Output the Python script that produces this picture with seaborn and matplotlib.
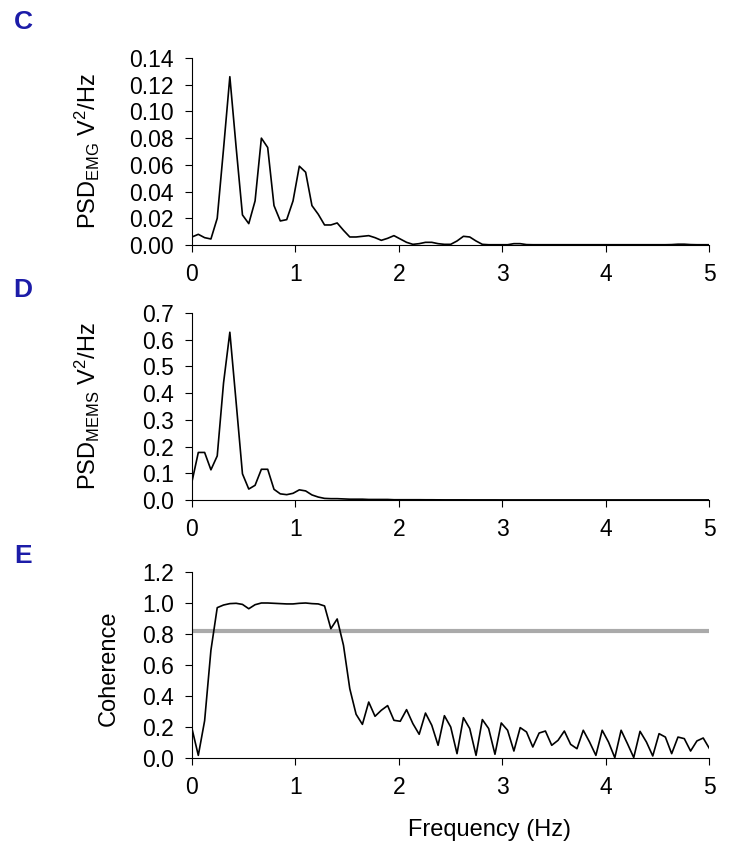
import numpy as np
import pandas as pd
import matplotlib
matplotlib.use("Agg")
import matplotlib.pyplot as plt
from matplotlib.ticker import FormatStrFormatter
import seaborn as sns

# Frequency bins (Hz), ~0.061 Hz resolution
freq = [0.000, 0.061, 0.122, 0.183, 0.244, 0.305, 0.366, 0.427, 0.488, 0.549,
        0.610, 0.671, 0.732, 0.793, 0.854, 0.916, 0.977, 1.038, 1.099, 1.160,
        1.221, 1.282, 1.343, 1.404, 1.465, 1.526, 1.587, 1.648, 1.709, 1.770,
        1.831, 1.892, 1.953, 2.014, 2.075, 2.136, 2.197, 2.258, 2.319, 2.380,
        2.441, 2.502, 2.563, 2.625, 2.686, 2.747, 2.808, 2.869, 2.930, 2.991,
        3.052, 3.113, 3.174, 3.235, 3.296, 3.357, 3.418, 3.479, 3.540, 3.601,
        3.662, 3.723, 3.784, 3.845, 3.906, 3.967, 4.028, 4.089, 4.150, 4.211,
        4.272, 4.333, 4.395, 4.456, 4.517, 4.578, 4.639, 4.700, 4.761, 4.822,
        4.883, 4.944, 5.005]

psd_emg = [0.006, 0.008, 0.0055, 0.0045, 0.020, 0.072, 0.126, 0.073, 0.0225, 0.016,
           0.033, 0.080, 0.073, 0.0295, 0.018, 0.019, 0.033, 0.059, 0.0545, 0.0295,
           0.023, 0.015, 0.015, 0.0165, 0.011, 0.006, 0.006, 0.0065, 0.007, 0.0055,
           0.0035, 0.005, 0.007, 0.0045, 0.002, 0.0005, 0.001, 0.002, 0.002, 0.001,
           0.0005, 0.0005, 0.003, 0.0065, 0.006, 0.003, 0.0005, 0.0002, 0.0002, 0.0002,
           0.0002, 0.001, 0.001, 0.0003, 0.0002, 0.0002, 0.0002, 0.0002, 0.0002, 0.0002,
           0.0002, 0.0002, 0.0002, 0.0002, 0.0002, 0.0002, 0.0002, 0.0002, 0.0002, 0.0002,
           0.0002, 0.0002, 0.0002, 0.0002, 0.0002, 0.0002, 0.0003, 0.0006, 0.0006, 0.0003,
           0.0002, 0.0002, 0.0002]

psd_mems = [0.069, 0.178, 0.178, 0.113, 0.165, 0.438, 0.628, 0.365, 0.098, 0.041,
            0.055, 0.115, 0.115, 0.040, 0.023, 0.020, 0.025, 0.038, 0.034, 0.019,
            0.011, 0.006, 0.005, 0.005, 0.004, 0.003, 0.003, 0.003, 0.002, 0.002,
            0.002, 0.002, 0.001, 0.001, 0.001, 0.001, 0.001, 0.0008, 0.0008, 0.0006,
            0.0005, 0.0005, 0.0005, 0.0005, 0.0004, 0.0004, 0.0004, 0.0004, 0.0004, 0.0003,
            0.0003, 0.0003, 0.0003, 0.0003, 0.0003, 0.0003, 0.0003, 0.0003, 0.0003, 0.0003,
            0.0003, 0.0003, 0.0003, 0.0003, 0.0003, 0.0003, 0.0003, 0.0003, 0.0003, 0.0003,
            0.0003, 0.0003, 0.0003, 0.0003, 0.0003, 0.0003, 0.0003, 0.0003, 0.0003, 0.0003,
            0.0003, 0.0003, 0.0003]

coherence = [0.189, 0.017, 0.240, 0.695, 0.970, 0.987, 0.996, 0.998, 0.991, 0.963,
             0.989, 1.000, 1.000, 0.998, 0.996, 0.994, 0.994, 0.998, 1.000, 0.996,
             0.994, 0.981, 0.834, 0.897, 0.727, 0.447, 0.282, 0.217, 0.361, 0.269,
             0.308, 0.338, 0.243, 0.237, 0.312, 0.222, 0.153, 0.290, 0.211, 0.082,
             0.273, 0.200, 0.028, 0.260, 0.190, 0.017, 0.248, 0.190, 0.024, 0.226,
             0.179, 0.045, 0.196, 0.168, 0.071, 0.161, 0.174, 0.082, 0.114, 0.174,
             0.088, 0.060, 0.179, 0.103, 0.017, 0.179, 0.103, 0.002, 0.179, 0.093,
             0.003, 0.172, 0.103, 0.013, 0.157, 0.135, 0.028, 0.135, 0.125, 0.045,
             0.110, 0.129, 0.060]

coherence_threshold = 0.82

panel_letters = ["C", "D", "E"]
y_labels = [r"PSD$_{\mathrm{EMG}}$ V$^{2}$/Hz",
            r"PSD$_{\mathrm{MEMS}}$ V$^{2}$/Hz",
            "Coherence"]

sns.set_style("ticks")
plt.rcParams['font.family'] = ['Liberation Sans', 'DejaVu Sans']
plt.rcParams['mathtext.fontset'] = 'custom'
plt.rcParams['mathtext.rm'] = 'Liberation Sans'
plt.rcParams['mathtext.it'] = 'Liberation Sans:italic'
plt.rcParams['text.color'] = 'black'
plt.rcParams['axes.labelcolor'] = 'black'

W, H = 730, 865
fig = plt.figure(figsize=(W / 100, H / 100), dpi=100)

TICK_FS = 16.5
LABEL_FS = 17


def make_axes(top, bottom, left=192, right=709):
    return fig.add_axes([left / W, (H - bottom) / H, (right - left) / W, (bottom - top) / H])


def style_axes(ax, ymax, ystep, fmt):
    ax.set_xlim(0, 5)
    ax.set_ylim(0, ymax)
    ax.set_xticks(range(0, 6))
    ax.set_yticks(np.arange(0, ymax + ystep / 2, ystep))
    ax.yaxis.set_major_formatter(FormatStrFormatter(fmt))
    ax.tick_params(axis='both', direction='out', length=5, width=0.8,
                   labelsize=TICK_FS, colors='black')
    ax.tick_params(axis='y', pad=8)
    ax.tick_params(axis='x', pad=8)
    for side in ['top', 'right']:
        ax.spines[side].set_visible(False)
    for side in ['left', 'bottom']:
        ax.spines[side].set_linewidth(0.8)
        ax.spines[side].set_color('black')
    ax.set_xlabel('')


df = pd.DataFrame({'freq': freq, 'emg': psd_emg, 'mems': psd_mems, 'coh': coherence})

# Panel C: EMG PSD
ax_c = make_axes(58, 245)
sns.lineplot(data=df, x='freq', y='emg', ax=ax_c, color='black', linewidth=1.2)
style_axes(ax_c, 0.14, 0.02, '%.2f')
ax_c.set_ylabel(y_labels[0], fontsize=LABEL_FS)
ax_c.yaxis.set_label_coords(-0.175, 0.5)

# Panel D: MEMS PSD
ax_d = make_axes(313, 500)
sns.lineplot(data=df, x='freq', y='mems', ax=ax_d, color='black', linewidth=1.2)
style_axes(ax_d, 0.7, 0.1, '%.1f')
ax_d.set_ylabel(y_labels[1], fontsize=LABEL_FS)
ax_d.yaxis.set_label_coords(-0.175, 0.5)

# Panel E: coherence with significance threshold
ax_e = make_axes(572, 758)
ax_e.axhline(coherence_threshold, color='#aaaaaa', linewidth=3, zorder=1)
sns.lineplot(data=df, x='freq', y='coh', ax=ax_e, color='black', linewidth=1.2, zorder=2)
style_axes(ax_e, 1.2, 0.2, '%.1f')
ax_e.set_ylabel(y_labels[2], fontsize=LABEL_FS)
ax_e.yaxis.set_label_coords(-0.14, 0.48)

fig.text(489.5 / W, 1 - 830 / H, 'Frequency (Hz)', ha='center', va='center',
         fontsize=LABEL_FS, color='black')

# Panel letters
for letter, ypix in zip(panel_letters, [22, 290, 556]):
    fig.text(23 / W, 1 - ypix / H, letter, ha='center', va='center',
             fontsize=19, fontweight='bold', color='#1c1ca8')

fig.savefig('out.png', dpi=100)
plt.close(fig)
